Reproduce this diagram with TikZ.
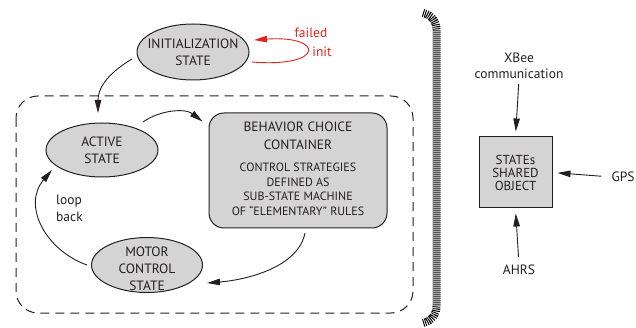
\documentclass[tikz,border=0pt]{standalone}
\usepackage{fontspec}
\setmainfont{PT Sans}
\usetikzlibrary{shapes.geometric,arrows.meta,calc}
\definecolor{fillg}{RGB}{212,212,212}
\definecolor{failred}{RGB}{226,35,26}
\definecolor{ink}{RGB}{35,31,32}
\begin{document}
\begin{tikzpicture}[x=1pt,y=-1pt,
  state/.style={ellipse,draw=ink,line width=1pt,fill=fillg,inner sep=0pt},
  lbl/.style={align=center,font=\fontsize{13.5}{17}\selectfont,text=ink,inner sep=0pt},
  small/.style={align=center,font=\fontsize{12}{14.5}\selectfont,text=ink,inner sep=0pt},
  arr/.style={draw=ink,line width=0.9pt,-{Triangle[length=13pt,width=6.5pt]}},
  box/.style={draw=ink,line width=1pt,fill=fillg,inner sep=0pt}]
\useasboundingbox (0,0) rectangle (636,328);

% container and separator
\draw[ink,line width=1pt,dash pattern=on 9pt off 6pt,rounded corners=22pt] (16,96) rectangle (413,313);
\draw[black,line width=8pt,dash pattern=on 1pt off 1pt] (423,13) .. controls (432,15) and (436.5,22) .. (436.5,30) -- (436.5,306) .. controls (436.5,314) and (432,321) .. (423,323);

% states
\node[state,minimum width=112pt,minimum height=56pt,label={[lbl]center:INITIALIZATION\\STATE}] (init) at (193,52) {};
\node[state,minimum width=112pt,minimum height=54pt,label={[lbl]center:ACTIVE\\STATE}] (active) at (102,150) {};
\node[state,minimum width=111pt,minimum height=55pt] (motor) at (147,265) {};
\node[lbl] (motort) at (147,269) {MOTOR\\CONTROL\\STATE};

\node[box,rounded corners=15pt,minimum width=178pt,minimum height=115pt] (beh) at (298,170.5) {};
\node[lbl,font=\fontsize{13.5}{18}\selectfont] (behA) at (298,136) {BEHAVIOR CHOICE\\CONTAINER};
\node[small] (behB) at (298,189.5) {CONTROL STRATEGIES\\DEFINED AS\\SUB-STATE MACHINE\\OF “ELEMENTARY” RULES};

\node[box,minimum width=73pt,minimum height=71pt,align=center,font=\fontsize{13}{13}\selectfont,text=ink] (states) at (515.5,172.5) {STATEs\\SHARED\\OBJECT};
\node[lbl,font=\fontsize{13.5}{16}\selectfont] (xbee) at (519,66) {XBee\\communication};
\node[lbl] (gps) at (623,177) {GPS};
\node[lbl] (ahrs) at (519,270) {AHRS};

% labels
\node[lbl,text=failred] (failed) at (311,33) {failed};
\node[lbl,text=failred] (initl) at (322,52) {init};
\node[lbl,align=left,anchor=west] (loopb) at (56,208.5) {loop\\back};

% connectors
\draw[arr] ($(init.center)+(-61,7)$) .. controls (105,75) and (98,90) .. ($(active.center)+(-4,-37)$);
\draw[arr] ($(active.center)+(41,-28)$) .. controls (160,110) and (185,108) .. ($(beh.north west)+(-6,9)$);
\draw[arr] ($(beh.center)+(7,62.5)$) .. controls (298,268) and (245,280) .. ($(motor.center)+(60,18)$);
\draw[arr] ($(motor.center)+(-60,0)$) .. controls (45,250) and (22,205) .. ($(active.center)+(-50,20)$);
\draw[arr,draw=failred] ($(init.center)+(59,10)$) .. controls (325,68) and (325,35) .. ($(init.center)+(61,-12)$);

\draw[arr,shorten <=5pt,shorten >=5pt] (xbee.south) -- (states.north);
\draw[arr,shorten <=10pt,shorten >=5pt] (gps.west) -- (states.east);
\draw[arr,shorten <=8pt,shorten >=5pt] (ahrs.north) -- (states.south);
\end{tikzpicture}
\end{document}
